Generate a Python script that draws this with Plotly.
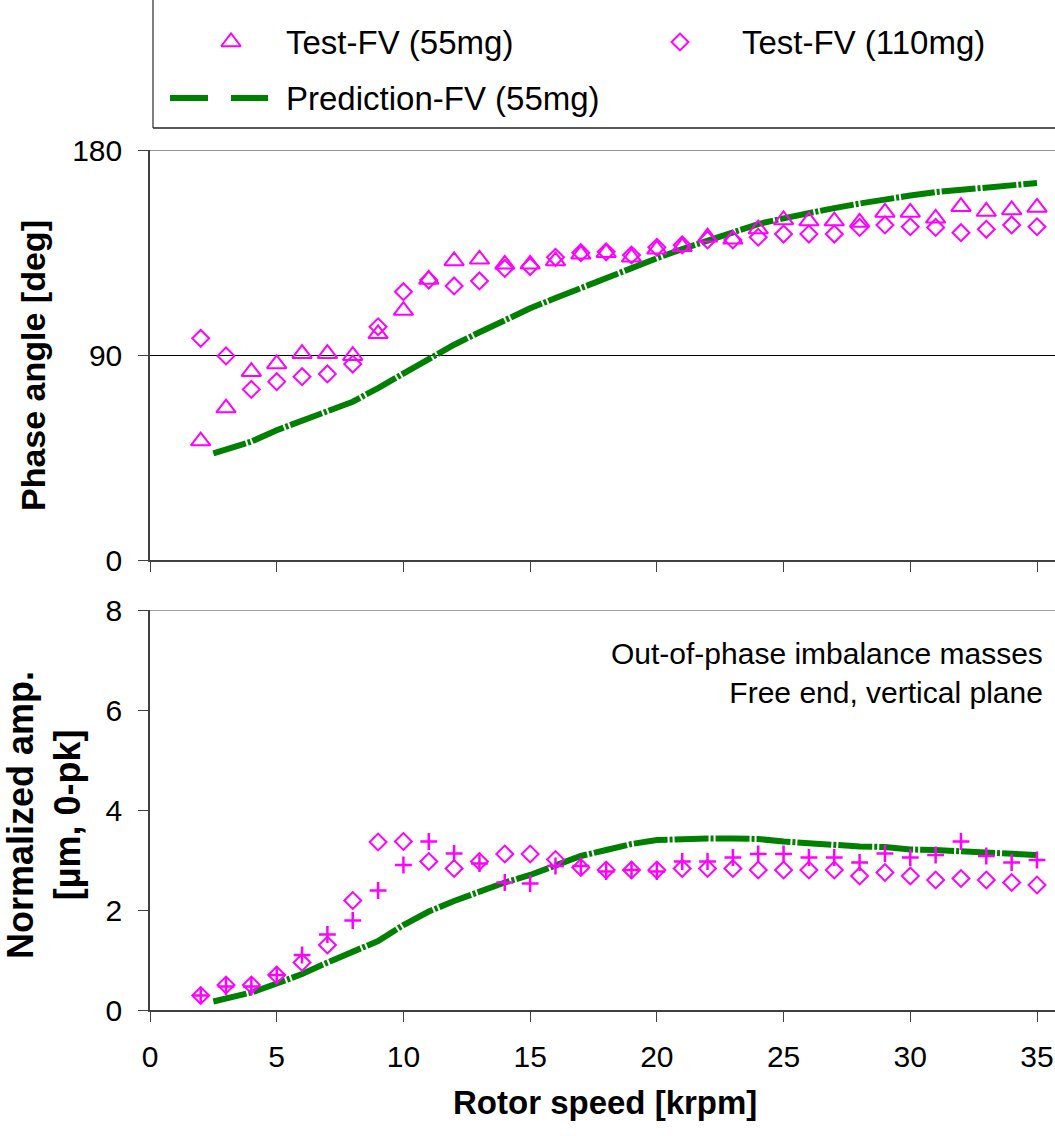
import plotly.graph_objects as go

# Rotor speed (krpm) at which the test points were recorded
speed = [2, 3, 4, 5, 6, 7, 8, 9, 10, 11, 12, 13, 14, 15, 16, 17, 18, 19, 20,
         21, 22, 23, 24, 25, 26, 27, 28, 29, 30, 31, 32, 33, 34, 35]

# Phase angle [deg], free end, vertical plane
phase_test_55 = [52.2, 66.7, 82.7, 86.1, 90.6, 90.6, 89.7, 99.3, 109.5, 123.2,
                 131.3, 132.0, 129.8, 129.8, 131.3, 134.2, 134.9, 132.9, 136.4,
                 137.5, 141.7, 140.8, 145.3, 149.3, 148.8, 148.8, 148.2, 152.6,
                 152.6, 150.0, 155.1, 153.0, 153.7, 154.8]
phase_test_110 = [97.3, 89.6, 74.9, 78.3, 80.5, 81.7, 86.0, 102.4, 117.8, 122.9,
                  120.3, 122.5, 128.0, 128.8, 132.9, 134.9, 135.3, 133.9, 137.3,
                  138.3, 140.5, 140.5, 141.7, 143.1, 143.1, 143.1, 146.0, 147.1,
                  146.3, 146.0, 143.7, 145.2, 147.1, 146.3]

# Normalized amplitude [um, 0-pk]
amp_test_55 = [0.29, 0.47, 0.47, 0.70, 1.10, 1.51, 1.79, 2.39, 2.90, 3.37,
               3.13, 2.93, 2.55, 2.53, 2.88, 2.88, 2.77, 2.80, 2.77, 2.97,
               2.97, 3.05, 3.12, 3.12, 3.05, 3.05, 2.95, 3.13, 3.05, 3.10,
               3.37, 3.08, 2.95, 3.00]
amp_test_110 = [0.29, 0.50, 0.50, 0.70, 0.95, 1.30, 2.19, 3.36, 3.37, 2.97,
                2.83, 2.97, 3.12, 3.12, 3.01, 2.85, 2.80, 2.80, 2.80, 2.83,
                2.83, 2.83, 2.80, 2.80, 2.80, 2.80, 2.68, 2.75, 2.68, 2.60,
                2.63, 2.60, 2.55, 2.50]

# Model prediction (55 mg)
pred_speed = [2.5, 3, 4, 5, 6, 7, 8, 9, 10, 11, 12, 13, 14, 15, 16, 17, 18, 19,
              20, 21, 22, 23, 24, 25, 26, 27, 28, 29, 30, 31, 32, 33, 34, 35]
pred_phase = [46.8, 48.5, 52.0, 57.0, 61.0, 65.5, 69.5, 75.5, 82.0, 88.5,
              94.5, 100.0, 105.5, 110.5, 115.0, 119.5, 124.0, 128.0, 132.5,
              136.5, 140.0, 144.0, 147.5, 150.0, 152.5, 154.5, 156.5, 158.5,
              160.0, 161.5, 162.5, 163.5, 164.5, 165.5]
pred_amp = [0.17, 0.22, 0.35, 0.53, 0.72, 0.95, 1.15, 1.38, 1.70, 1.97,
            2.18, 2.38, 2.55, 2.70, 2.90, 3.08, 3.20, 3.32, 3.40, 3.43,
            3.43, 3.43, 3.42, 3.37, 3.33, 3.30, 3.27, 3.26, 3.21, 3.20,
            3.17, 3.13, 3.12, 3.10]

phase_ticks = [0, 90, 180]
amp_ticks = [0, 2, 4, 6, 8]
speed_ticks = [0, 5, 10, 15, 20, 25, 30, 35]

legend_labels = ["Test-FV (55mg)", "Test-FV (110mg)", "Prediction-FV (55mg)"]
note_text = "Out-of-phase imbalance masses<br>Free end, vertical plane"

W, H = 1055, 1136
FONT = "Liberation Sans, Arial, sans-serif"
MAGENTA = "#FF00FF"
GREEN = "#008000"
AXIS = "#404040"


def py(p):
    """Pixel row -> paper y."""
    return 1 - p / H


def px(p):
    """Pixel column -> paper x."""
    return p / W


fig = go.Figure()

tri = dict(symbol="triangle-up-open", size=17, color=MAGENTA,
           line=dict(color=MAGENTA, width=2))
dia = dict(symbol="diamond-open", size=13, color=MAGENTA,
           line=dict(color=MAGENTA, width=2))
crs = dict(symbol="cross-thin-open", size=12, color=MAGENTA,
           line=dict(color=MAGENTA, width=2.5))
pred_line = dict(color=GREEN, width=6, dash="34px,2px,3px,2px")

# Upper panel: phase angle
fig.add_trace(go.Scatter(x=pred_speed, y=pred_phase, mode="lines",
                         line=pred_line, xaxis="x", yaxis="y",
                         showlegend=False))
fig.add_trace(go.Scatter(x=speed, y=phase_test_110, mode="markers", marker=dia,
                         xaxis="x", yaxis="y", showlegend=False))
fig.add_trace(go.Scatter(x=speed, y=phase_test_55, mode="markers", marker=tri,
                         xaxis="x", yaxis="y", showlegend=False))

# Lower panel: normalized amplitude
fig.add_trace(go.Scatter(x=pred_speed, y=pred_amp, mode="lines",
                         line=pred_line, xaxis="x2", yaxis="y2",
                         showlegend=False))
fig.add_trace(go.Scatter(x=speed, y=amp_test_110, mode="markers", marker=dia,
                         xaxis="x2", yaxis="y2", showlegend=False))
fig.add_trace(go.Scatter(x=speed, y=amp_test_55, mode="markers", marker=crs,
                         xaxis="x2", yaxis="y2", showlegend=False))

# Legend keys, placed on a pixel-scaled overlay axis
fig.add_trace(go.Scatter(x=[231], y=[42], mode="markers", marker=tri,
                         xaxis="x3", yaxis="y3", showlegend=False,
                         hoverinfo="skip"))
fig.add_trace(go.Scatter(x=[680], y=[42], mode="markers", marker=dia,
                         xaxis="x3", yaxis="y3", showlegend=False,
                         hoverinfo="skip"))

xdom = [px(150), 1.0]
xrange_ = [0, 35 * (W - 150) / (1037 - 150)]

common_x = dict(range=xrange_, tickvals=speed_ticks, ticks="outside",
                ticklen=10, tickwidth=1, tickcolor=AXIS, showline=True,
                linecolor=AXIS, linewidth=1.5, showgrid=False, zeroline=False,
                domain=xdom, fixedrange=True, automargin=False)
common_y = dict(ticks="outside", ticklen=10, tickwidth=1, tickcolor=AXIS,
                showline=True, linecolor=AXIS, linewidth=1.5, zeroline=False,
                fixedrange=True, ticklabelstandoff=10, automargin=False)

fig.update_layout(
    width=W, height=H,
    margin=dict(l=0, r=0, t=0, b=0, pad=0, autoexpand=False),
    paper_bgcolor="white", plot_bgcolor="rgba(0,0,0,0)",
    font=dict(family=FONT, size=30, color="black"),
    showlegend=False,
    xaxis=dict(common_x, anchor="y", showticklabels=False),
    yaxis=dict(common_y, domain=[py(560), py(150)], range=[0, 180],
               tickvals=phase_ticks, showgrid=True, gridcolor="black",
               gridwidth=1, anchor="x"),
    xaxis2=dict(common_x, anchor="y2", ticklabelstandoff=9),
    yaxis2=dict(common_y, domain=[py(1010), py(610)], range=[0, 8],
                tickvals=amp_ticks, showgrid=False, anchor="x2"),
    xaxis3=dict(domain=[0, 1], range=[0, W], visible=False, anchor="y3",
                fixedrange=True, automargin=False),
    yaxis3=dict(domain=[0, 1], range=[H, 0], visible=False, anchor="x3",
                fixedrange=True, automargin=False),
)

shapes = [
    # top border lines of both panels
    dict(type="line", xref="x domain", yref="y", x0=0, x1=1, y0=180, y1=180,
         line=dict(color="#707070", width=1.5)),
    dict(type="line", xref="x2 domain", yref="y2", x0=0, x1=1, y0=8, y1=8,
         line=dict(color="#808080", width=1.5)),
    # legend frame (left and bottom edges)
    dict(type="line", xref="x3", yref="y3", x0=153, x1=153, y0=0, y1=128,
         line=dict(color="#555555", width=1.5)),
    dict(type="line", xref="x3", yref="y3", x0=153, x1=W, y0=128, y1=128,
         line=dict(color="#222222", width=1.5)),
    # legend key for the prediction line (long dashes)
    dict(type="line", xref="x3", yref="y3", x0=170, x1=208, y0=98, y1=98,
         line=dict(color=GREEN, width=6)),
    dict(type="line", xref="x3", yref="y3", x0=231, x1=268, y0=98, y1=98,
         line=dict(color=GREEN, width=6)),
]
fig.update_layout(shapes=shapes)

annotations = [
    dict(xref="x3", yref="y3", x=284, y=42, text=legend_labels[0],
         xanchor="left", yanchor="middle", showarrow=False,
         font=dict(size=33)),
    dict(xref="x3", yref="y3", x=740, y=42, text=legend_labels[1],
         xanchor="left", yanchor="middle", showarrow=False,
         font=dict(size=33)),
    dict(xref="x3", yref="y3", x=284, y=98, text=legend_labels[2],
         xanchor="left", yanchor="middle", showarrow=False,
         font=dict(size=33)),
    dict(xref="x3", yref="y3", x=1045, y=673, text=note_text,
         xanchor="right", yanchor="middle", align="right", showarrow=False,
         font=dict(size=30)),
    dict(xref="x3", yref="y3", x=33, y=366, text="<b>Phase angle [deg]</b>",
         textangle=-90, xanchor="center", yanchor="middle", showarrow=False,
         font=dict(size=34)),
    dict(xref="x3", yref="y3", x=44, y=815,
         text="<b>Normalized amp.</b><br><b>[µm, 0-pk]</b>",
         textangle=-90, xanchor="center", yanchor="middle", showarrow=False,
         font=dict(size=36)),
    dict(xref="x3", yref="y3", x=605, y=1102, text="<b>Rotor speed [krpm]</b>",
         xanchor="center", yanchor="middle", showarrow=False,
         font=dict(size=33)),
]
fig.update_layout(annotations=annotations)

fig.write_html("out.html")
